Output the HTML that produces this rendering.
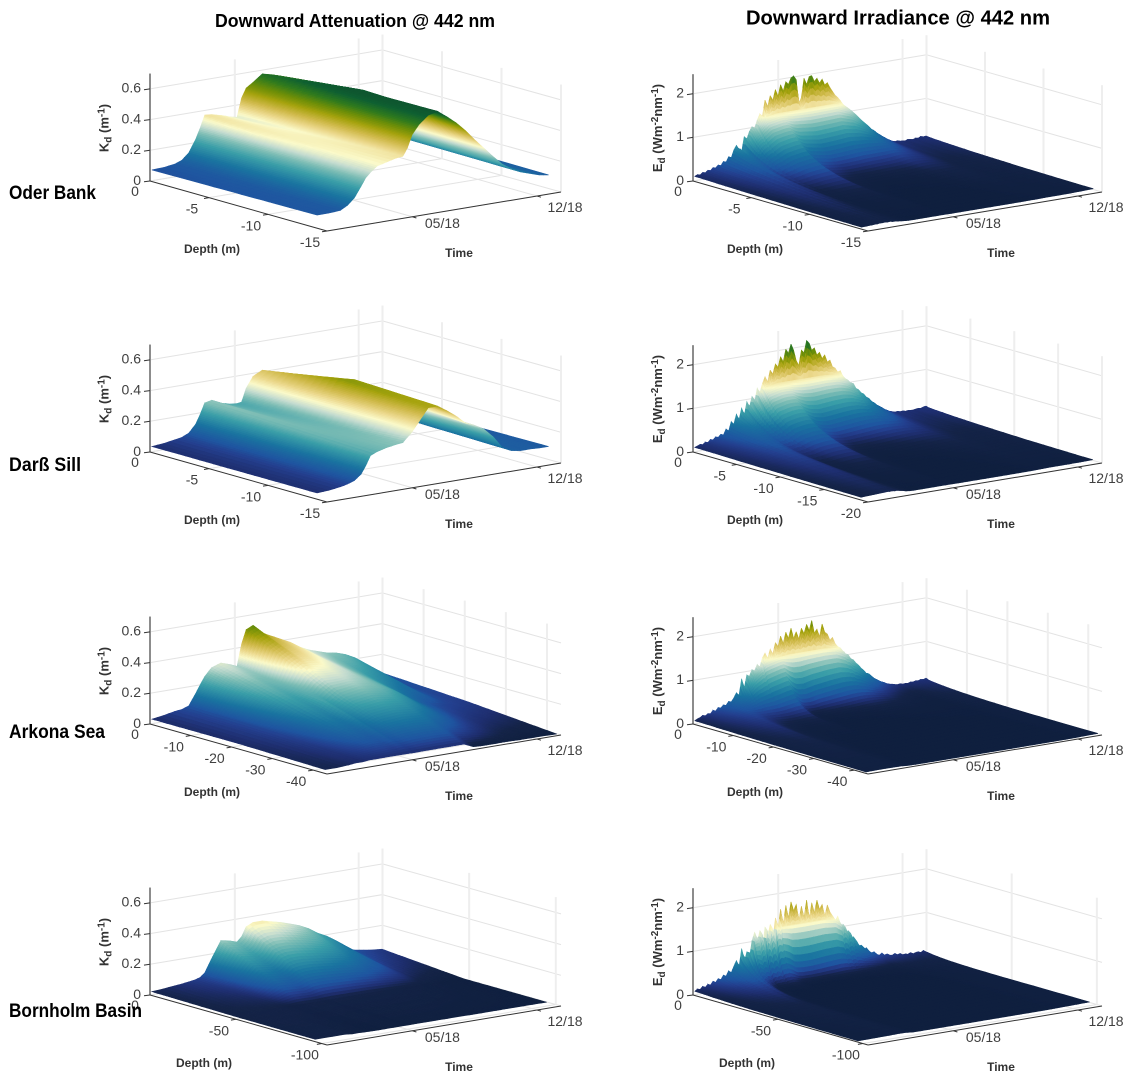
<!DOCTYPE html>
<html lang="en">
<head>
<meta charset="utf-8">
<title>Downward attenuation and irradiance at 442 nm</title>
<style>
html,body{margin:0;padding:0;background:#fff}
svg{display:block;font-family:"Liberation Sans",sans-serif}
</style>
</head>
<body>
<svg id="figure" width="1135" height="1083" viewBox="0 0 1135 1083" xmlns="http://www.w3.org/2000/svg">
<text x="355" y="27" text-anchor="middle" font-size="18" font-weight="bold" fill="#000" textLength="280" lengthAdjust="spacingAndGlyphs">Downward Attenuation @ 442 nm</text>
<text x="898" y="24.500" text-anchor="middle" font-size="20" font-weight="bold" fill="#000" textLength="304" lengthAdjust="spacingAndGlyphs">Downward Irradiance @ 442 nm</text>
<g id="panels"></g>
<text x="9" y="199" font-size="19" font-weight="bold" fill="#000" textLength="87" lengthAdjust="spacingAndGlyphs">Oder Bank</text>
<text x="9" y="471" font-size="19" font-weight="bold" fill="#000" textLength="72" lengthAdjust="spacingAndGlyphs">Darß Sill</text>
<text x="9" y="738" font-size="19" font-weight="bold" fill="#000" textLength="96" lengthAdjust="spacingAndGlyphs">Arkona Sea</text>
<text x="9" y="1017" font-size="19" font-weight="bold" fill="#000" textLength="133" lengthAdjust="spacingAndGlyphs">Bornholm Basin</text>
</svg>
<script>
// ---- Time axis ----
const timeSpanDays = 400;
const timeTickDays = [146, 359];
const timeTickLabels = ['05/18', '12/18'];

// ---- Kd samples: days since axis start ----
const kdDays = [0,20,40,52,64,76,84,92,104,120,136,148,156,164,176,192,208,224,240,256,272,288,304,320,336,352,368,384,400];

// Kd (1/m) at the surface, mid depth and bottom of each station
const oderKdTop = [.07,.073,.083,.10,.14,.22,.29,.37,.365,.35,.33,.32,.44,.50,.53,.575,.56,.54,.52,.50,.44,.33,.27,.22,.18,.15,.13,.11,.10];
const oderKdMid = [.075,.077,.084,.105,.145,.22,.28,.335,.35,.35,.35,.345,.41,.50,.56,.625,.62,.60,.56,.52,.45,.34,.27,.215,.175,.145,.125,.105,.095];
const oderKdBot = [.08,.08,.085,.11,.15,.22,.27,.30,.335,.35,.365,.37,.42,.50,.56,.61,.625,.58,.53,.47,.40,.335,.27,.21,.17,.14,.12,.10,.09];

const darssKdTop = [.034,.04,.052,.06,.08,.13,.19,.26,.27,.24,.225,.22,.225,.31,.38,.41,.39,.37,.35,.32,.28,.24,.20,.16,.13,.11,.10,.09,.08];
const darssKdMid = [.034,.04,.05,.06,.078,.12,.175,.24,.255,.25,.245,.245,.26,.31,.41,.50,.49,.46,.42,.37,.31,.25,.19,.14,.11,.10,.095,.088,.083];
const darssKdBot = [.035,.04,.05,.06,.075,.11,.16,.22,.24,.255,.265,.27,.30,.33,.39,.47,.47,.43,.385,.33,.305,.27,.21,.13,.10,.09,.09,.087,.086];

const arkonaKdTop = [.03,.04,.055,.06,.075,.147,.20,.25,.30,.32,.30,.28,.42,.51,.53,.47,.44,.41,.38,.34,.31,.29,.27,.26,.24,.21,.11,.08,.08];
const arkonaKdMid = [.03,.035,.045,.05,.06,.08,.10,.12,.15,.18,.17,.22,.20,.22,.25,.26,.27,.26,.25,.23,.20,.16,.12,.09,.07,.06,.055,.05,.047];
const arkonaKdBot = [.02,.02,.025,.03,.03,.035,.035,.035,.035,.035,.035,.035,.035,.035,.035,.035,.035,.035,.035,.008,.005,.005,.005,.005,.003,.003,.003,.002,0];

const bornholmKdTop = [.02,.025,.033,.037,.043,.05,.06,.085,.17,.277,.265,.25,.28,.34,.36,.36,.345,.33,.31,.29,.26,.22,.19,.15,.09,.07,.06,.05,.045];
const bornholmKdMid = [.012,.014,.015,.015,.015,.015,.015,.014,.014,.014,.013,.013,.013,.013,.013,.013,.013,.013,.013,.012,.012,.011,.01,.009,.007,.005,.003,.002,.001];
const bornholmKdBot = [.01,.01,.01,.01,.005,.005,.003,.003,.002,.002,.002,.002,.002,.002,.002,.002,.002,.002,.002,.002,.001,.001,.001,.001,.001,.001,.001,.001,0];

// ---- Surface irradiance Ed(0) through the record (equally spaced in time) ----
const oderEd0 = [.10,.13,.11,.16,.14,.19,.17,.23,.21,.27,.24,.33,.30,.42,.38,.55,.65,.50,.48,.82,.75,.92,1.02,.97,1.15,1.28,1.22,1.58,1.42,1.66,1.55,1.78,1.62,1.87,1.72,1.92,1.85,1.99,2.02,1.93,1.37,1.50,1.93,1.78,1.95,1.96,1.82,1.88,1.76,1.84,1.70,1.74,1.62,1.52,1.42,1.36,1.28,1.18,1.12,1.05,1.02,.92,.85,.78,.72,.66,.60,.52,.50,.42,.38,.33,.29,.24,.21,.17,.15,.13,.14,.12,.12,.11,.13,.12,.11,.13,.12,.15,.13,.14];
const darssEd0 = [.10,.12,.15,.13,.18,.16,.22,.20,.26,.24,.30,.27,.40,.34,.55,.48,.70,.56,.82,.62,.95,.80,1.05,.90,1.22,1.10,1.30,1.45,1.32,1.58,1.48,1.70,1.62,1.85,1.72,2.00,1.90,2.10,1.95,1.70,1.58,1.92,1.85,2.12,2.05,1.88,1.92,1.75,1.80,1.65,1.72,1.55,1.58,1.42,1.38,1.28,1.30,1.12,1.08,1.0,.98,.86,.82,.74,.70,.62,.58,.50,.46,.40,.36,.32,.26,.24,.20,.18,.16,.14,.15,.13,.14,.12,.13,.12,.12,.13,.14,.13,.15,.16];
const arkonaEd0 = [.07,.10,.12,.16,.14,.18,.17,.24,.21,.28,.26,.32,.30,.38,.36,.44,.55,.48,.85,.62,.92,.88,1.02,.98,1.12,1.05,1.25,1.35,1.22,1.42,1.30,1.55,1.45,1.68,1.50,1.75,1.60,1.82,1.58,1.72,1.55,1.78,1.65,1.85,1.70,1.92,1.62,1.70,1.52,1.80,1.60,1.55,1.40,1.45,1.30,1.22,1.18,1.05,1.02,.92,.88,.80,.74,.66,.60,.52,.50,.44,.38,.34,.30,.26,.24,.20,.18,.16,.15,.13,.12,.13,.11,.12,.11,.13,.12,.14,.13,.15,.14,.16];
const bornholmEd0 = [.08,.12,.10,.16,.13,.19,.16,.24,.20,.28,.24,.34,.30,.42,.36,.50,.62,.46,.88,.55,.78,.62,1.02,1.20,.95,1.22,.80,1.28,1.05,1.32,.95,1.45,1.20,1.63,1.25,1.70,1.40,1.76,1.55,1.68,1.30,1.62,1.35,1.74,1.30,1.66,1.42,1.70,1.48,1.58,1.30,1.55,1.38,1.28,1.15,1.25,.95,1.05,.78,.88,.65,.72,.55,.48,.50,.38,.42,.32,.28,.30,.22,.20,.24,.18,.20,.16,.15,.18,.14,.16,.12,.13,.11,.14,.10,.12,.13,.10,.14,.09];

// ---- Smooth irradiance just below the surface ----
const edSubDays = [0,20,40,60,80,100,120,140,160,180,200,220,240,260,280,300,320,340,360,380,400];
const oderEdSub = [.10,.15,.24,.40,.62,.95,1.20,1.25,1.25,1.25,1.25,1.25,1.25,1.12,.85,.55,.32,.15,.12,.12,.13];
const darssEdSub = [.10,.14,.22,.36,.60,.95,1.22,1.28,1.28,1.28,1.28,1.28,1.25,1.12,.85,.55,.32,.16,.13,.13,.14];
const arkonaEdSub = [.07,.12,.20,.30,.50,.90,1.15,1.22,1.25,1.25,1.25,1.25,1.22,1.05,.80,.52,.30,.16,.12,.12,.13];
const bornholmEdSub = [.08,.12,.22,.34,.55,1.00,1.20,1.25,1.25,1.25,1.25,1.25,1.20,.95,.55,.32,.18,.14,.12,.11,.10];

// ---- Axis ticks ----
const depthTicksShallow = [0,-5,-10,-15];
const depthTicksDarssEd = [0,-5,-10,-15,-20];
const depthTicksArkona = [0,-10,-20,-30,-40];
const depthTicksBornholm = [0,-50,-100];
const kdTicks = [0,0.2,0.4,0.6];
const kdTickLabels = ['0','0.2','0.4','0.6'];
const edTicks = [0,1,2];
const edTickLabels = ['0','1','2'];

// ---- Colour map (delta-like): stop position, then colour ----
const cmapStops = [0,.025,.05,.08,.11,.2,.3,.38,.44,.5,.56,.63,.7,.76,.82,.88,1];
const cmapColors = ['#10203f','#152448','#1f2f70','#24408f','#1f55a0','#1a74a0','#3a9ea8','#7dbdb5','#c5dcd0','#fbfaca','#ecd98e','#cfb94a','#a6a30e','#6f8f08','#2f7a1e','#0f6032','#10402a'];

const svgNS = 'http://www.w3.org/2000/svg';
const rowShift = [0, 271, 543, 814];
const cmapRgb = cmapColors.map(h => [parseInt(h.slice(1,3),16), parseInt(h.slice(3,5),16), parseInt(h.slice(5,7),16)]);

function colorAt(p) {
  p = Math.max(0, Math.min(1, p));
  let i = 0;
  while (i < cmapStops.length - 2 && p > cmapStops[i + 1]) i++;
  const f = (p - cmapStops[i]) / (cmapStops[i + 1] - cmapStops[i]);
  const a = cmapRgb[i], b = cmapRgb[i + 1];
  return 'rgb(' + Math.round(a[0] + (b[0] - a[0]) * f) + ',' + Math.round(a[1] + (b[1] - a[1]) * f) + ',' + Math.round(a[2] + (b[2] - a[2]) * f) + ')';
}

function mk(tag, attrs, parent) {
  const el = document.createElementNS(svgNS, tag);
  for (const k in attrs) el.setAttribute(k, attrs[k]);
  parent.appendChild(el);
  return el;
}

function interp1(xs, ys, x) {
  if (x <= xs[0]) return ys[0];
  let i = 0;
  while (i < xs.length - 2 && x > xs[i + 1]) i++;
  const f = (x - xs[i]) / (xs[i + 1] - xs[i]);
  return ys[i] + (ys[Math.min(i + 1, ys.length - 1)] - ys[i]) * f;
}

function kdAt(st, day, df) {
  const top = interp1(kdDays, st.top, day);
  const mid = interp1(kdDays, st.mid, day);
  const bot = interp1(kdDays, st.bot, day);
  return df < 0.5 ? top + (mid - top) * df * 2 : mid + (bot - mid) * (df - 0.5) * 2;
}

const stations = {
  oder: {top: oderKdTop, mid: oderKdMid, bot: oderKdBot},
  darss: {top: darssKdTop, mid: darssKdMid, bot: darssKdBot},
  arkona: {top: arkonaKdTop, mid: arkonaKdMid, bot: arkonaKdBot},
  bornholm: {top: bornholmKdTop, mid: bornholmKdMid, bot: bornholmKdBot}
};

const panelList = [
  {id:'oder-kd', col:0, row:0, st:'oder', ticks:depthTicksShallow, dMax:15, dEnd:14, cells:24},
  {id:'oder-ed', col:1, row:0, st:'oder', ticks:depthTicksShallow, dMax:15, dEnd:14.3, ed0:oderEd0, edSub:oderEdSub, loss:1.25},
  {id:'darss-kd', col:0, row:1, st:'darss', ticks:depthTicksShallow, dMax:15, dEnd:14, cells:24},
  {id:'darss-ed', col:1, row:1, st:'darss', ticks:depthTicksDarssEd, dMax:20, dEnd:19, ed0:darssEd0, edSub:darssEdSub, loss:1.25},
  {id:'arkona-kd', col:0, row:2, st:'arkona', ticks:depthTicksArkona, dMax:43.4, dEnd:42.5, cells:56},
  {id:'arkona-ed', col:1, row:2, st:'arkona', ticks:depthTicksArkona, dMax:43.4, dEnd:42.5, ed0:arkonaEd0, edSub:arkonaEdSub, loss:1.25},
  {id:'bornholm-kd', col:0, row:3, st:'bornholm', ticks:depthTicksBornholm, dMax:103, dEnd:95, cells:56},
  {id:'bornholm-ed', col:1, row:3, st:'bornholm', ticks:depthTicksBornholm, dMax:103, dEnd:96, ed0:bornholmEd0, edSub:bornholmEdSub, loss:1.6}
];

function buildPanel(cfg, root) {
  const dy = rowShift[cfg.row];
  const isEd = !!cfg.ed0;
  const A = isEd ? [693, 181 + dy] : [150, 181 + dy];
  const B = isEd ? [868, 231 + dy] : [327, 231 + dy];
  const C = isEd ? [1102, 192 + dy] : [561, 192 + dy];
  const D = isEd ? [926.5, 142 + dy] : [382.5, 142 + dy];
  const zUnit = isEd ? 43.6 : 153.5;
  const zTop = isEd ? 2.45 : 0.7;
  const clim = isEd ? 2.4 : 0.68;

  function sx(t, d, z) {
    return A[0] * (1 - t) * (1 - d) + D[0] * t * (1 - d) + B[0] * (1 - t) * d + C[0] * t * d;
  }
  function sy(t, d, z) {
    return A[1] * (1 - t) * (1 - d) + D[1] * t * (1 - d) + B[1] * (1 - t) * d + C[1] * t * d - z * zUnit;
  }

  const g = mk('g', {}, root);
  
  

  const zTicks = isEd ? edTicks : kdTicks;
  const zLabels = isEd ? edTickLabels : kdTickLabels;
  const tTicks = timeTickDays.map(v => v / timeSpanDays);
  const dTicks = cfg.ticks.map(v => -v / cfg.dMax);

  // walls and floor grid
  const gridG = mk('g', {fill: 'none'}, g);
  
  
  zTicks.forEach(z => {
    const pl = mk('polyline', {points: [A[0], A[1] - z * zUnit, D[0], D[1] - z * zUnit, C[0], C[1] - z * zUnit].join(','), stroke: '#e3e3e3', 'stroke-width': 1}, gridG);
    
    
  });
  tTicks.forEach(t => {
    const fl = mk('line', {x1: sx(t, 0, 0), y1: sy(t, 0, 0), x2: sx(t, 1, 0), y2: sy(t, 1, 0), stroke: '#e3e3e3', 'stroke-width': 1}, gridG);
    
    
    const vl = mk('line', {x1: sx(t, 0, 0), y1: sy(t, 0, 0), x2: sx(t, 0, 0), y2: sy(t, 0, zTop), stroke: '#eeeeee', 'stroke-width': 2}, gridG);
    
    
  });
  dTicks.forEach(d => {
    const fl = mk('line', {x1: sx(0, d, 0), y1: sy(0, d, 0), x2: sx(1, d, 0), y2: sy(1, d, 0), stroke: '#e3e3e3', 'stroke-width': 1}, gridG);
    
    
    const vl = mk('line', {x1: sx(1, d, 0), y1: sy(1, d, 0), x2: sx(1, d, 0), y2: sy(1, d, zTop), stroke: '#eeeeee', 'stroke-width': 2}, gridG);
    
    
  });

  // axes
  const axG = mk('g', {}, g);
  
  
  const zAxis = mk('line', {x1: A[0], y1: A[1], x2: A[0], y2: A[1] - zTop * zUnit, stroke: '#8c8c8c', 'stroke-width': 2}, axG);
  
  
  const dAxis = mk('line', {x1: A[0], y1: A[1], x2: B[0], y2: B[1], stroke: '#333', 'stroke-width': 1}, axG);
  
  
  const tAxis = mk('line', {x1: B[0], y1: B[1], x2: C[0], y2: C[1], stroke: '#333', 'stroke-width': 1}, axG);
  
  

  // surface
  const surf = mk('g', {}, g);
  
  
  const st = stations[cfg.st];
  const ts = [], ds = [], grid = [];
  const dFrac = cfg.dEnd / cfg.dMax;
  if (isEd) {
    const n = cfg.ed0.length;
    const nDepth = 40, wall = 0.015, wallCells = 5;
    for (let j = 0; j < wallCells; j++) ds.push(wall * j / wallCells);
    for (let j = 0; j <= nDepth; j++) ds.push(wall + (1 - wall) * Math.pow(j / nDepth, 2.2));
    for (let i = 0; i < n; i++) {
      for (let s = 0; s < (i === n - 1 ? 1 : 2); s++) {
        const idx = i + s * 0.5;
        const tf = idx / (n - 1) * 0.99 + 0.008;
        const base = s === 0 ? cfg.ed0[i] : (cfg.ed0[i] + cfg.ed0[i + 1]) / 2;
        const sub = Math.min(base, interp1(edSubDays, cfg.edSub, tf * timeSpanDays));
        ts.push(tf);
        let cum = 0;
        const col = [];
        ds.forEach((d, j) => {
          if (d <= wall) {
            col.push(base + (sub - base) * d / wall);
          } else {
            const dm = (d + ds[j - 1]) / 2;
            cum += kdAt(st, tf * timeSpanDays, dm) * (d - ds[j - 1]) * cfg.dEnd * cfg.loss;
            col.push(sub * Math.exp(-cum));
          }
        });
        grid.push(col);
      }
    }
  } else {
    const nDepth = cfg.cells;
    for (let j = 0; j <= nDepth; j++) ds.push(j / nDepth);
    for (let i = 0; i < kdDays.length - 1; i++) {
      const jump = Math.max(Math.abs(st.top[i + 1] - st.top[i]), Math.abs(st.mid[i + 1] - st.mid[i]), Math.abs(st.bot[i + 1] - st.bot[i]));
      const nSub = Math.max(2, Math.min(14, Math.ceil(jump * 100)));
      const last = i === kdDays.length - 2 ? nSub : nSub - 1;
      for (let s = 0; s <= last; s++) {
        const day = kdDays[i] + (kdDays[i + 1] - kdDays[i]) * s / nSub;
        ts.push(day / timeSpanDays * 0.99 + 0.008);
        grid.push(ds.map(d => kdAt(st, day, d)));
      }
    }
  }
  for (let i = ts.length - 2; i >= 0; i--) {
    for (let j = 0; j < ds.length - 1; j++) {
      const t0 = ts[i], t1 = ts[i + 1], d0 = ds[j] * dFrac, d1 = ds[j + 1] * dFrac;
      const z00 = grid[i][j], z10 = grid[i + 1][j], z01 = grid[i][j + 1], z11 = grid[i + 1][j + 1];
      const pts = [sx(t0, d0, 0), sy(t0, d0, z00), sx(t1, d0, 0), sy(t1, d0, z10), sx(t1, d1, 0), sy(t1, d1, z11), sx(t0, d1, 0), sy(t0, d1, z01)];
      const fill = colorAt((z00 + z10 + z01 + z11) / 4 / clim);
      const cell = mk('polygon', {points: pts.map(v => v.toFixed(1)).join(','), fill: fill, stroke: fill, 'stroke-width': 0.6}, surf);
      
      
    }
  }

  // ticks and tick labels
  const lab = mk('g', {'font-size': 14, fill: '#404040'}, g);
  
  
  zTicks.forEach((z, i) => {
    const y = A[1] - z * zUnit;
    const tk = mk('line', {x1: A[0], y1: y, x2: A[0] - 6, y2: y + 0.8, stroke: '#333', 'stroke-width': 1}, lab);
    
    
    const tx = mk('text', {x: A[0] - 9, y: y + 3.8, 'text-anchor': 'end'}, lab);
    tx.textContent = zLabels[i];
    
    
  });
  cfg.ticks.forEach((v, i) => {
    const d = dTicks[i];
    const x = sx(0, d, 0), y = sy(0, d, 0);
    if (i > 0) {
      const tk = mk('line', {x1: x, y1: y, x2: x - 5, y2: y + 0.8, stroke: '#333', 'stroke-width': 1}, lab);
      
      
    }
    const tx = mk('text', {x: x + (i === 0 ? -15 : -17), y: y + (i === 0 ? 15 : 16), 'text-anchor': 'middle'}, lab);
    tx.textContent = String(v);
    
    
  });
  tTicks.forEach((t, i) => {
    const x = sx(t, 1, 0), y = sy(t, 1, 0);
    const tk = mk('line', {x1: x, y1: y, x2: x + 4, y2: y + 1.2, stroke: '#333', 'stroke-width': 1}, lab);
    
    
    const tx = mk('text', {x: x + (i === 0 ? 30 : 28), y: y + (i === 0 ? 11 : 16), 'text-anchor': 'middle'}, lab);
    tx.textContent = timeTickLabels[i];
    
    
  });

  // axis titles
  const off = isEd ? 543 : 0;
  const depthX = cfg.row === 3 ? 204 : 212;
  const dt = mk('text', {x: depthX + off, y: 253 + dy, 'text-anchor': 'middle', 'font-size': 12, 'font-weight': 'bold', fill: '#333'}, g);
  dt.textContent = 'Depth (m)';
  
  
  const tt = mk('text', {x: 459 + off - (isEd ? 1 : 0), y: 257 + dy, 'text-anchor': 'middle', 'font-size': 12, 'font-weight': 'bold', fill: '#333'}, g);
  tt.textContent = 'Time';
  
  

  const yx = isEd ? 662 : 108.5;
  const yt = mk('text', {transform: 'translate(' + yx + ',' + (128 + dy) + ') rotate(-90)', 'text-anchor': 'middle', 'font-size': 13, 'font-weight': 'bold', fill: '#333'}, g);
  
  
  const parts = isEd
    ? [['E', 0], ['d', 3], [' (Wm', -3], ['-2', -4], ['nm', 4], ['-1', -4], [')', 4]]
    : [['K', 0], ['d', 3], [' (m', -3], ['-1', -4], [')', 4]];
  parts.forEach(p => {
    const ts2 = mk('tspan', {dy: p[1]}, yt);
    if (p[0] === 'd' || p[0] === '-1' || p[0] === '-2') ts2.setAttribute('font-size', 10);
    ts2.textContent = p[0];
  });
}

const panelsRoot = document.getElementById('panels');
panelList.forEach(cfg => buildPanel(cfg, panelsRoot));
</script>
</body>
</html>
